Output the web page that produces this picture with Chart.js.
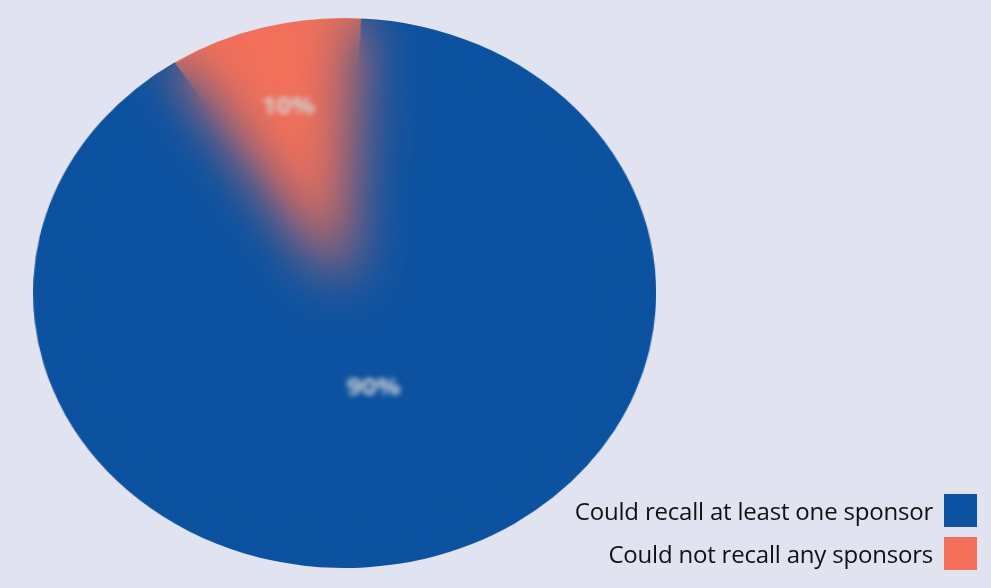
<!DOCTYPE html>
<html>
<head>
<meta charset="utf-8">
<script src="https://cdn.jsdelivr.net/npm/chart.js@4.4.0/dist/chart.umd.min.js"></script>
<style>
  html, body { margin: 0; padding: 0; }
  body { width: 991px; height: 588px; background: #e1e3f0; position: relative; overflow: hidden; font-family: "Open Sans", "Noto Sans", sans-serif; }
  #pieWrap { position: absolute; left: 33px; top: 18px; width: 550px; height: 550px; transform-origin: 0 0; transform: scaleX(1.133); }
  #legend { position: absolute; right: 14px; top: 494px; }
  .item { display: flex; align-items: center; justify-content: flex-end; height: 33px; margin-bottom: 10px; }
  .item span { font-size: 24px; color: #111; margin-right: 11px; letter-spacing: -0.2px; }
  .item i { display: block; width: 33px; height: 33px; }
</style>
</head>
<body>
<div id="pieWrap"><canvas id="pie" width="550" height="550"></canvas></div>
<div id="legend"></div>
<script>
// datos del gráfico
const categorias = ['Could recall at least one sponsor', 'Could not recall any sponsors'];
const valores = [90, 10];
const etiquetas = ['90%', '10%'];
const colores = ['#0c52a0', '#f2705a'];

// difumina el interior del pastel y escribe los porcentajes
const suavizado = {
  id: 'suavizado',
  afterDraw(chart, args, opts) {
    const ctx = chart.ctx;
    const arcs = chart.getDatasetMeta(0).data;
    const a0 = arcs[0];
    const tmp = document.createElement('canvas');
    tmp.width = chart.canvas.width;
    tmp.height = chart.canvas.height;
    tmp.getContext('2d').drawImage(chart.canvas, 0, 0);
    ctx.save();
    ctx.beginPath();
    ctx.arc(a0.x, a0.y, a0.outerRadius - 1, 0, Math.PI * 2);
    ctx.clip();
    ctx.filter = 'blur(' + opts.blur + 'px)';
    ctx.drawImage(tmp, 0, 0);
    ctx.restore();

    ctx.save();
    ctx.filter = 'blur(2.5px)';
    ctx.fillStyle = '#d4d4d4';
    ctx.font = 'bold 23px "Open Sans", sans-serif';
    ctx.textAlign = 'center';
    ctx.textBaseline = 'middle';
    arcs.forEach((arc, i) => {
      const mid = (arc.startAngle + arc.endAngle) / 2;
      const r = arc.outerRadius * opts.radios[i];
      ctx.fillText(etiquetas[i], arc.x + Math.cos(mid) * r, arc.y + Math.sin(mid) * r);
    });
    ctx.restore();
  }
};

const grafico = new Chart(document.getElementById('pie').getContext('2d'), {
  type: 'pie',
  data: {
    labels: categorias,
    datasets: [{
      data: valores,
      backgroundColor: colores,
      borderWidth: 0
    }]
  },
  options: {
    responsive: false,
    animation: false,
    rotation: 3,
    layout: { padding: 0 },
    plugins: {
      legend: { display: false },
      tooltip: { enabled: false },
      suavizado: { blur: 26, radios: [0.36, 0.7] }
    }
  },
  plugins: [suavizado]
});

// leyenda a la derecha, generada por la librería
const leyenda = document.getElementById('legend');
Chart.overrides.pie.plugins.legend.labels.generateLabels(grafico).forEach(item => {
  const fila = document.createElement('div');
  fila.className = 'item';
  const texto = document.createElement('span');
  texto.textContent = item.text;
  const caja = document.createElement('i');
  caja.style.background = item.fillStyle;
  fila.appendChild(texto);
  fila.appendChild(caja);
  leyenda.appendChild(fila);
});
</script>
</body>
</html>
